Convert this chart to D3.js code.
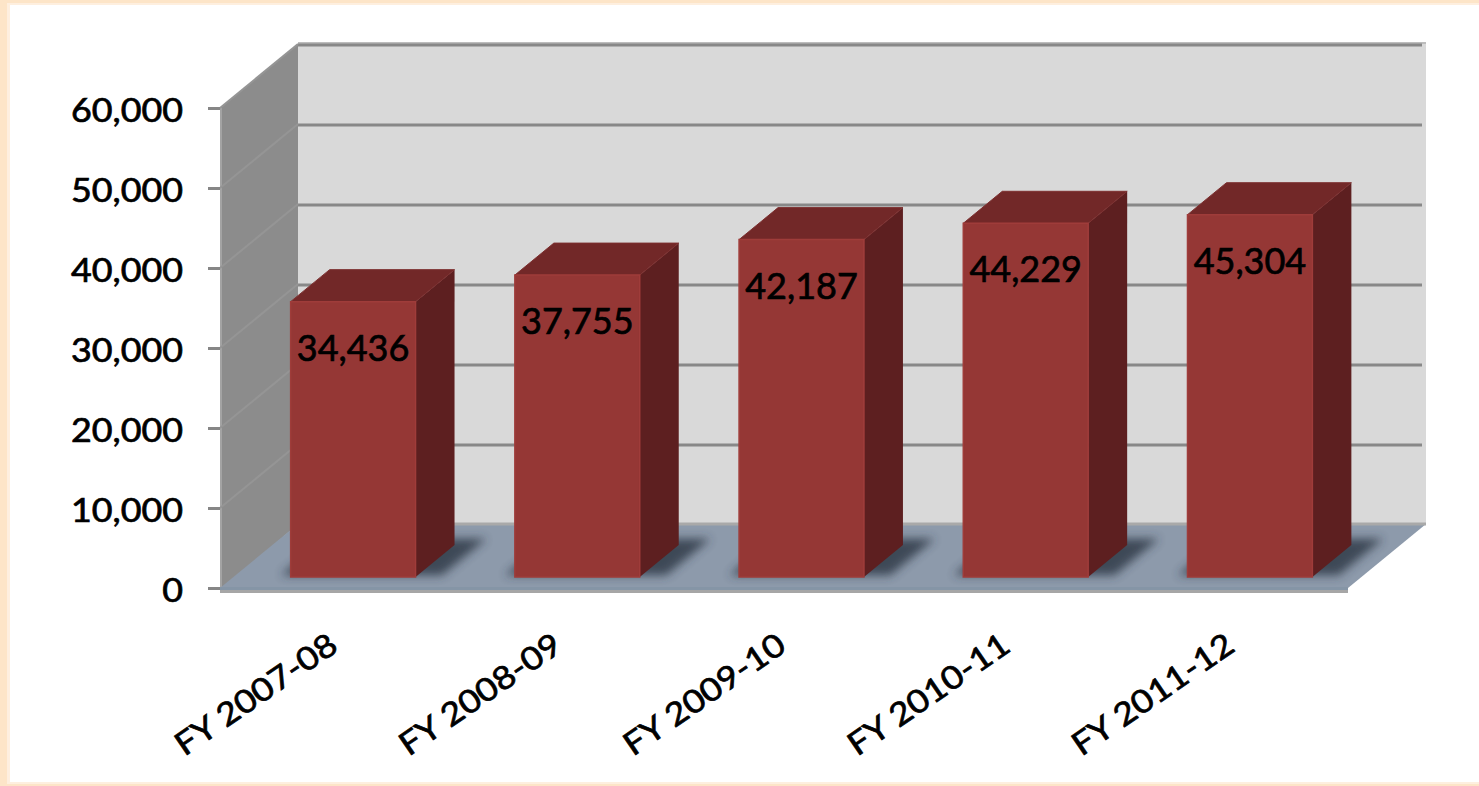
<!DOCTYPE html>
<html lang="en">
<head>
    <meta charset="UTF-8">
    <title>FY totals 3D column chart</title>
    <script src="https://d3js.org/d3.v7.min.js"></script>
    <style>
        body {
            margin: 0;
            background: #ffffff;
        }
        svg text {
            font-family: Lato, "Open Sans", sans-serif;
            fill: #000;
            stroke: #000;
            stroke-width: 0.7px;
        }
    </style>
</head>
<body>
    <script>
        // data
        const categories = ["FY 2007-08", "FY 2008-09", "FY 2009-10", "FY 2010-11", "FY 2011-12"];
        const values = [34436, 37755, 42187, 44229, 45304];
        const yTicks = [0, 10000, 20000, 30000, 40000, 50000, 60000];

        const width = 1479, height = 786;

        // front plane of the plot box and the depth offset of the back wall
        const X0 = 220, X1 = 1348;
        const DX = 78, DY = 64;
        // depth span of the columns (0 = front, 1 = back wall)
        const zF = 0.17, zB = 0.67;

        const y = d3.scaleLinear().domain([0, 60000]).range([588, 108]);
        const x = d3.scaleBand().domain(categories).range([X0, X1])
            .paddingInner(0.443).paddingOuter(0.237).align(0.54);

        // project a point (plane x, value, depth) to the screen
        const P = (px, v, z) => [px + z * DX, y(v) - z * DY];
        const poly = pts => pts.map(p => p.join(",")).join(" ");

        const svg = d3.select("body").append("svg")
            .attr("width", width)
            .attr("height", height);

        // frame
        svg.append("rect").attr("width", width).attr("height", height).attr("fill", "#fde5c8");
        svg.append("rect").attr("x", 7).attr("y", 3).attr("width", width - 7).attr("height", 781).attr("fill", "#feefdf");
        svg.append("rect").attr("x", 10).attr("y", 5).attr("width", width - 10).attr("height", 777).attr("fill", "#fff");

        const defs = svg.append("defs");
        defs.append("filter").attr("id", "blur")
            .attr("x", "-30%").attr("y", "-30%").attr("width", "160%").attr("height", "160%")
            .append("feGaussianBlur").attr("stdDeviation", 5);
        const floorPts = [P(X0, 0, 0), P(X1, 0, 0), P(X1, 0, 1), P(X0, 0, 1)];
        defs.append("clipPath").attr("id", "floorClip")
            .append("polygon").attr("points", poly(floorPts));

        const ymax = 60000;

        // back wall
        svg.append("polygon")
            .attr("points", poly([P(X0, 0, 1), P(X1, 0, 1), P(X1, ymax, 1), P(X0, ymax, 1)]))
            .attr("fill", "#d9d9d9");
        svg.append("line")
            .attr("x1", P(X0, ymax, 1)[0]).attr("x2", P(X1, ymax, 1)[0])
            .attr("y1", P(X0, ymax, 1)[1] - 1).attr("y2", P(X1, ymax, 1)[1] - 1)
            .attr("stroke", "#bdbdbd").attr("stroke-width", 2);

        // side wall
        svg.append("polygon")
            .attr("points", poly([P(X0, 0, 0), [X0, 592], P(X0, 0, 1), P(X0, ymax, 1), P(X0, ymax, 0)]))
            .attr("fill", "#8c8c8c");
        svg.append("line")
            .attr("x1", X0 + 1).attr("x2", X0 + 1).attr("y1", y(ymax)).attr("y2", 592)
            .attr("stroke", "#a3a3a3").attr("stroke-width", 2);

        // gridlines on both walls
        svg.append("g").selectAll("line")
            .data(yTicks.filter(d => d > 0))
            .join("line")
            .attr("x1", d => P(X0, d, 1)[0]).attr("y1", d => P(X0, d, 1)[1] + 1)
            .attr("x2", d => P(X1, d, 1)[0] - 4).attr("y2", d => P(X1, d, 1)[1] + 1)
            .attr("stroke", "#888").attr("stroke-width", 3);
        svg.append("g").selectAll("line")
            .data(yTicks.filter(d => d > 0))
            .join("line")
            .attr("x1", d => P(X0, d, 0)[0]).attr("y1", d => P(X0, d, 0)[1])
            .attr("x2", d => P(X0, d, 1)[0]).attr("y2", d => P(X0, d, 1)[1])
            .attr("stroke", "#959595").attr("stroke-width", 2);

        // floor
        svg.append("polygon").attr("points", poly(floorPts)).attr("fill", "#8d9aab");
        svg.append("line")
            .attr("x1", P(X0, 0, 1)[0]).attr("x2", P(X1, 0, 1)[0])
            .attr("y1", P(X0, 0, 1)[1]).attr("y2", P(X1, 0, 1)[1])
            .attr("stroke", "#a9a9a9").attr("stroke-width", 3);
        svg.append("rect").attr("x", X0).attr("y", y(0) - 1).attr("width", X1 - X0).attr("height", 3)
            .attr("fill", "#8595a6");
        svg.append("rect").attr("x", X0).attr("y", y(0) + 2).attr("width", X1 - X0).attr("height", 3)
            .attr("fill", "#a6a6a6");

        // soft shadows round the column feet
        svg.append("g").attr("clip-path", "url(#floorClip)")
            .selectAll("polygon")
            .data(categories)
            .join("polygon")
            .attr("points", c => {
                const a = x(c), b = x(c) + x.bandwidth();
                return poly([P(a - 12, 0, zF + 0.03), P(b + 24, 0, zF + 0.03), P(b + 24, 0, zB + 0.1), P(a - 12, 0, zB + 0.1)]);
            })
            .attr("fill", "#2c3643").attr("opacity", 0.8)
            .attr("filter", "url(#blur)");

        // columns
        const bars = svg.append("g").selectAll("g")
            .data(categories.map((c, i) => ({ c, v: values[i] })))
            .join("g");

        bars.append("polygon") // right side
            .attr("points", d => {
                const b = x(d.c) + x.bandwidth();
                return poly([P(b, 0, zF), P(b, 0, zB), P(b, d.v, zB), P(b, d.v, zF)]);
            })
            .attr("fill", "#5d1f20");
        bars.append("polygon") // top
            .attr("points", d => {
                const a = x(d.c), b = x(d.c) + x.bandwidth();
                return poly([P(a, d.v, zF), P(b, d.v, zF), P(b, d.v, zB), P(a, d.v, zB)]);
            })
            .attr("fill", "#722828")
            .attr("stroke", "#7d3030").attr("stroke-width", 1);
        bars.append("polygon") // front
            .attr("points", d => {
                const a = x(d.c), b = x(d.c) + x.bandwidth();
                return poly([P(a, 0, zF), P(b, 0, zF), P(b, d.v, zF), P(a, d.v, zF)]);
            })
            .attr("fill", "#953735")
            .attr("stroke", "#9f3c3a").attr("stroke-width", 1.5);

        // value labels on the column fronts
        bars.append("text")
            .attr("x", d => P(x(d.c) + x.bandwidth() / 2, d.v, zF)[0])
            .attr("y", d => P(0, d.v, zF)[1] + 59)
            .attr("text-anchor", "middle")
            .style("font-size", "36px")
            .text(d => d3.format(",")(d.v));

        // value axis
        const yAxis = svg.append("g")
            .attr("transform", `translate(${X0},0)`)
            .call(d3.axisLeft(y).tickValues(yTicks).tickSize(12).tickFormat(d3.format(",")));
        yAxis.select(".domain").remove();
        yAxis.selectAll(".tick line").attr("stroke", "#868686").attr("stroke-width", 3);
        yAxis.selectAll(".tick text")
            .attr("x", null)
            .attr("dy", "0.42em")
            .attr("transform", "translate(-37,0) scale(1.12,1)")
            .style("font-size", "32px")
            .style("font-family", "Lato, sans-serif")
            .attr("fill", "#000");

        // category axis
        const xAxis = svg.append("g")
            .attr("transform", "translate(0,650)")
            .call(d3.axisBottom(x).tickSize(0));
        xAxis.select(".domain").remove();
        xAxis.selectAll(".tick text")
            .attr("y", 0)
            .attr("dy", 0)
            .attr("text-anchor", "end")
            .attr("transform", "rotate(-34.5) scale(1.12,1)")
            .style("font-size", "32px")
            .style("font-family", "Lato, sans-serif")
            .attr("fill", "#000");
    </script>
</body>
</html>
